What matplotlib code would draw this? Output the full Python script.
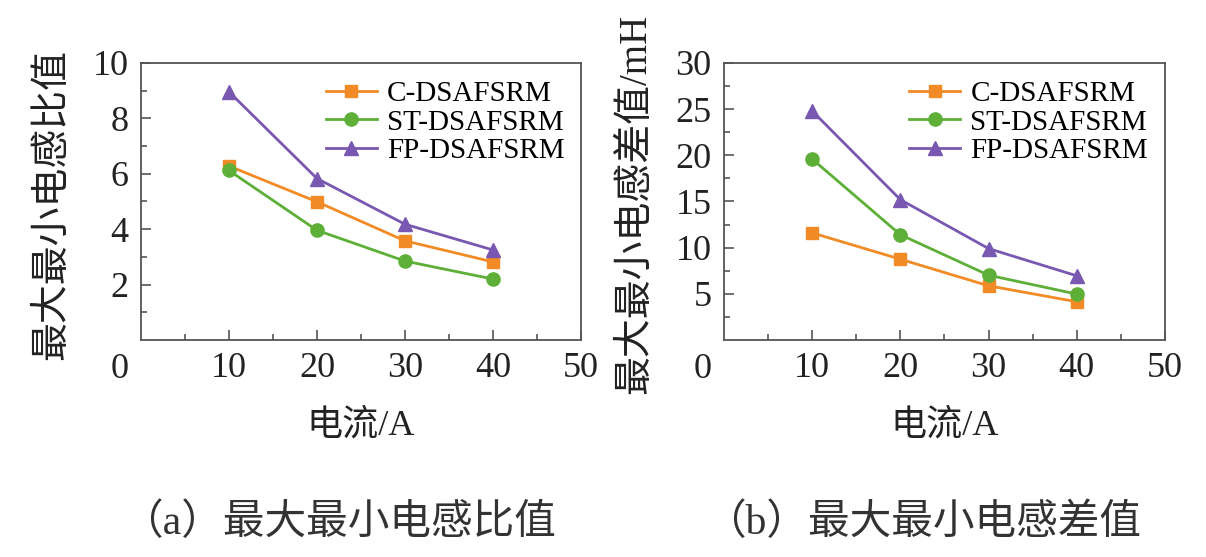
import numpy as np
import matplotlib
matplotlib.use('Agg')
import matplotlib.pyplot as plt

plt.rcParams['font.family'] = ['Liberation Serif', 'Noto Sans CJK SC']

# data
current = [10, 20, 30, 40]
labels = ['C-DSAFSRM', 'ST-DSAFSRM', 'FP-DSAFSRM']
ratio_c = [6.28, 4.99, 3.58, 2.82]
ratio_st = [6.12, 3.96, 2.85, 2.20]
ratio_fp = [8.96, 5.83, 4.18, 3.25]
diff_c = [11.6, 8.75, 5.87, 4.14]
diff_st = [19.6, 11.4, 7.02, 4.97]
diff_fp = [24.8, 15.2, 9.9, 6.95]

colors = ['#F28A26', '#5DAF38', '#7858B0']
markers = ['s', 'o', '^']
msizes = [9, 9.5, 10]
spine_col = '#555555'


def panel(ax, series, ymax, ymaj, ymin_ticks, ylabel, caption):
    for vals, lab, c, mk, ms in zip(series, labels, colors, markers, msizes):
        ax.plot(current, vals, '-', color=c, marker=mk, ms=ms, lw=2.0,
                label=lab)
    ax.set_xlim(0, 50)
    ax.set_ylim(0, ymax)
    ax.set_xticks([10, 20, 30, 40, 50])
    ax.set_xticks([5, 15, 25, 35, 45], minor=True)
    ax.set_yticks(ymaj)
    ax.set_yticks(ymin_ticks, minor=True)
    ax.tick_params(which='both', direction='in', color=spine_col,
                   width=1.2, labelsize=26, labelcolor='#222222')
    ax.tick_params(which='major', length=7)
    ax.tick_params(which='minor', length=4)
    ax.tick_params(axis='x', pad=9)
    ax.tick_params(axis='y', pad=9)
    for sp in ax.spines.values():
        sp.set_color(spine_col)
        sp.set_linewidth(1.3)
    # lone "0" sitting below-left of the corner
    ax.annotate('0', xy=(0, 0), xycoords='data', xytext=(-21, -30),
                textcoords='offset pixels', ha='center', va='center',
                fontsize=26, color='#222222')
    ax.set_ylabel(ylabel, fontsize=28, color='#222222')
    ax.yaxis.set_label_coords(-0.2, 0.49)
    ax.yaxis.label.set_va('center')
    ax.set_xlabel('电流/A', fontsize=26, color='#222222')
    ax.xaxis.set_label_coords(0.5, -0.31)
    ax.xaxis.label.set_va('center')
    ax.legend(loc='upper left', bbox_to_anchor=(0.42, 0.935), frameon=False,
              fontsize=21, handlelength=1.75, handletextpad=0.35,
              labelspacing=0.06, borderpad=0, borderaxespad=0)
    ax.text(0.45, -0.66, caption, transform=ax.transAxes, ha='center',
            va='center', fontsize=30, color='#333333')


fig = plt.figure(figsize=(12.06, 5.57), dpi=100)
ax1 = fig.add_axes([0.1169, 0.3896, 0.3648, 0.4973])
ax2 = fig.add_axes([0.6003, 0.3896, 0.3657, 0.4973])

panel(ax1, [ratio_c, ratio_st, ratio_fp], 10, [2, 4, 6, 8, 10],
      [1, 3, 5, 7, 9], '最大最小电感比值', '（a）最大最小电感比值')
panel(ax2, [diff_c, diff_st, diff_fp], 30, [5, 10, 15, 20, 25, 30],
      [2.5, 7.5, 12.5, 17.5, 22.5, 27.5], '最大最小电感差值/mH',
      '（b）最大最小电感差值')

fig.savefig('out.png', dpi=100)
